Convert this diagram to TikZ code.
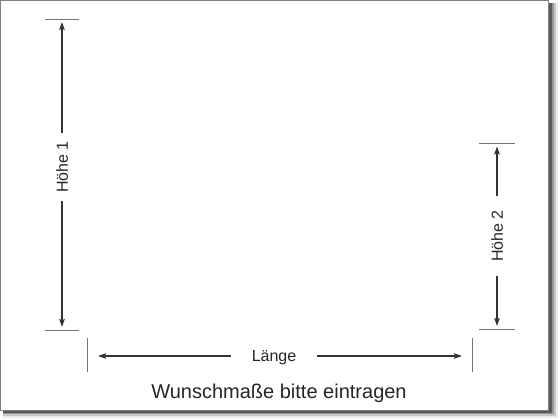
\documentclass[tikz,border=0pt]{standalone}
\usepackage{fontspec}
\setmainfont{Liberation Sans}
\usetikzlibrary{arrows.meta}
\begin{document}
\begin{tikzpicture}[x=1pt,y=-1pt,
 dim/.style={line width=1.6pt,draw=black!80,-{Stealth[length=8pt,width=5.5pt,inset=1.5pt]}},
 tickline/.style={line width=0.9pt,draw=black!55},
 lab/.style={font=\fontsize{16}{16}\selectfont, text=black!85, text height=11.5pt, text depth=0pt, inner ysep=0pt}]
\useasboundingbox (0,0) rectangle (560,420);
\fill[white] (0,0) rectangle (560,420);
% shadow
\fill[black!8] (3,3) rectangle (558,418);
\fill[black!22] (3,3) rectangle (556,416);
\fill[black!42] (3,3) rectangle (554,414);
\fill[black!65] (3,3) rectangle (552,412.5);
\draw[fill=white,draw=black!50,line width=1pt] (0.5,0.5) rectangle (548,410.5);
% Hoehe 1
\node[lab,rotate=90,inner xsep=8.5pt] (h1) at (62,167) {Höhe 1};
\coordinate (h1top) at (62,22);
\coordinate (h1bot) at (62,327);
\draw[dim] (h1.east) -- (h1top);
\draw[dim] (h1.west) -- (h1bot);
\draw[tickline] (45,19) -- (79,19);
\draw[tickline] (45,330.5) -- (79,330.5);
% Hoehe 2
\node[lab,rotate=90,inner xsep=14.5pt] (h2) at (497,236) {Höhe 2};
\coordinate (h2top) at (497,146.5);
\coordinate (h2bot) at (497,326);
\draw[dim] (h2.east) -- (h2top);
\draw[dim] (h2.west) -- (h2bot);
\draw[tickline] (479,143) -- (515,143);
\draw[tickline] (479,329.5) -- (515,329.5);
% Laenge
\node[lab,inner xsep=20.5pt] (l) at (274,356) {Länge};
\coordinate (lleft) at (98,356);
\coordinate (lright) at (462,356);
\draw[dim] (l.west) -- (lleft);
\draw[dim] (l.east) -- (lright);
\draw[tickline] (87,338) -- (87,372);
\draw[tickline] (472,338) -- (472,372);
% caption
\node[font=\fontsize{20}{20}\selectfont,text=black!85,anchor=base,inner sep=0pt] (t) at (279,398) {Wunschmaße bitte eintragen};
\end{tikzpicture}
\end{document}
